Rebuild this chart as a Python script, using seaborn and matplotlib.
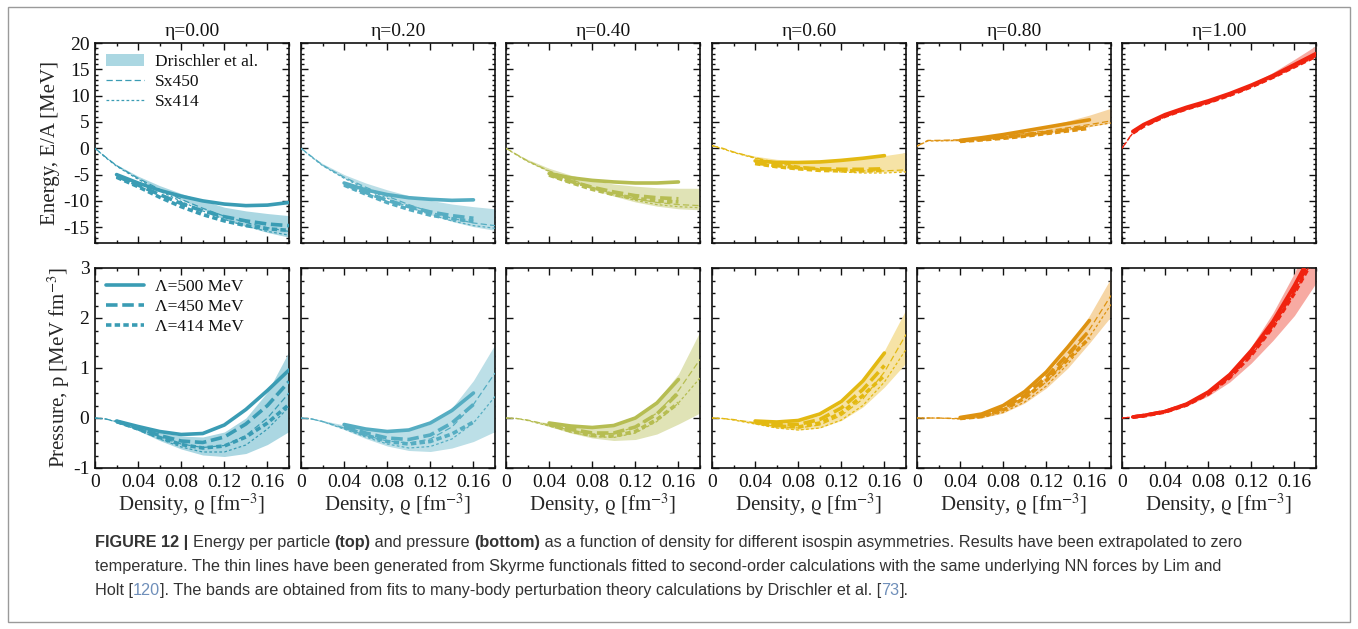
import numpy as np
import pandas as pd
import seaborn as sns
import matplotlib
matplotlib.use("Agg")
import matplotlib.pyplot as plt
from matplotlib.patches import Patch, Rectangle
from matplotlib.lines import Line2D
from matplotlib.ticker import MultipleLocator
from matplotlib import font_manager
from matplotlib.font_manager import FontProperties

nan = np.nan

# ---------------- data ----------------
RHO = [0.00, 0.01, 0.02, 0.04, 0.06, 0.08, 0.10, 0.12, 0.14, 0.16, 0.18]
ETA_TITLES = ["η=0.00", "η=0.20", "η=0.40", "η=0.60", "η=0.80", "η=1.00"]
LINE_COLORS = ["#3a9cb4", "#56adc2", "#b6bd52", "#e3b912", "#de9210", "#f0230f"]
BAND_COLORS = ["#abd7e2", "#bcdfe7", "#e0e3b6", "#f6e3a6", "#f6d6a6", "#f7aaa2"]

# Energy per particle [MeV]
E_BAND_HI = [
    [0, -1.6, -3.1, -5.3, -7.1, -8.6, -9.9, -11.2, -11.9, -12.4, -12.8],
    [0, -1.5, -2.9, -5.0, -6.6, -7.9, -9.0, -9.9, -10.6, -11.1, -11.5],
    [0, -1.1, -2.1, -3.8, -5.1, -6.1, -6.8, -7.2, -7.5, -7.6, -7.6],
    [0.5, 0.0, -0.6, -1.5, -2.1, -2.4, -2.5, -2.3, -1.9, -1.4, -0.8],
    [0.4, 1.6, 1.7, 1.8, 2.2, 2.8, 3.4, 4.2, 5.2, 6.3, 7.6],
    [0, 3.1, 4.4, 6.3, 7.6, 8.9, 10.4, 12.2, 14.4, 16.9, 19.5],
]
E_BAND_LO = [
    [0, -1.8, -3.4, -5.8, -7.9, -9.8, -11.6, -13.6, -14.8, -16.0, -16.9],
    [0, -1.7, -3.3, -5.7, -7.6, -9.4, -11.1, -12.6, -13.9, -14.9, -15.6],
    [0, -1.3, -2.5, -4.5, -6.2, -7.8, -9.1, -10.2, -11.0, -11.5, -11.7],
    [0.5, -0.1, -0.8, -1.9, -2.8, -3.5, -4.0, -4.3, -4.5, -4.5, -4.4],
    [0.4, 1.4, 1.4, 1.4, 1.6, 1.9, 2.3, 2.8, 3.4, 4.1, 4.8],
    [0, 2.9, 4.2, 6.1, 7.4, 8.6, 10.0, 11.6, 13.4, 15.4, 17.3],
]
E_SX450 = [
    [0, -1.7, -3.3, -5.7, -7.8, -9.7, -11.4, -12.9, -14.1, -15.1, -15.8],
    [0, -1.6, -3.2, -5.5, -7.4, -9.1, -10.7, -12.1, -13.3, -14.2, -14.7],
    [0, -1.2, -2.4, -4.3, -5.9, -7.4, -8.6, -9.6, -10.3, -10.7, -10.9],
    [0.5, 0.0, -0.7, -1.8, -2.7, -3.4, -3.9, -4.2, -4.3, -4.3, -4.1],
    [0.4, 1.5, 1.5, 1.6, 1.9, 2.3, 2.8, 3.3, 3.9, 4.5, 5.2],
    [0, 3.0, 4.3, 6.2, 7.5, 8.8, 10.2, 11.8, 13.7, 15.8, 17.9],
]
E_SX414 = [
    [0, -1.8, -3.4, -5.9, -8.1, -10.1, -11.9, -13.5, -14.8, -15.8, -16.5],
    [0, -1.7, -3.3, -5.7, -7.7, -9.5, -11.2, -12.6, -13.8, -14.7, -15.2],
    [0, -1.3, -2.5, -4.4, -6.1, -7.6, -8.9, -9.9, -10.7, -11.1, -11.3],
    [0.5, -0.1, -0.8, -1.9, -2.9, -3.6, -4.1, -4.5, -4.7, -4.7, -4.5],
    [0.4, 1.4, 1.4, 1.5, 1.7, 2.1, 2.5, 3.0, 3.6, 4.2, 4.8],
    [0, 2.9, 4.2, 6.1, 7.4, 8.7, 10.1, 11.7, 13.5, 15.6, 17.6],
]
E_L500 = [
    [nan, nan, -5.0, -6.6, -8.0, -9.1, -10.0, -10.6, -10.9, -10.8, -10.3],
    [nan, nan, nan, -6.6, -7.9, -8.8, -9.4, -9.7, -9.9, -9.8, nan],
    [nan, nan, nan, -4.8, -5.6, -6.1, -6.4, -6.6, -6.6, -6.4, nan],
    [nan, nan, nan, -2.4, -2.7, -2.7, -2.6, -2.3, -1.9, -1.4, nan],
    [nan, nan, nan, 1.5, 2.0, 2.6, 3.3, 4.0, 4.7, 5.4, nan],
    [nan, 3.2, 4.5, 6.4, 7.8, 9.0, 10.4, 12.0, 13.8, 15.9, 18.0],
]
E_L450 = [
    [nan, nan, -5.3, -7.0, -8.8, -10.5, -11.9, -13.0, -13.8, -14.4, -14.7],
    [nan, nan, nan, -6.8, -8.4, -9.9, -11.1, -12.1, -12.8, -13.3, nan],
    [nan, nan, nan, -5.0, -6.3, -7.4, -8.3, -9.0, -9.4, -9.6, nan],
    [nan, nan, nan, -2.8, -3.3, -3.7, -3.9, -4.0, -4.0, -3.9, nan],
    [nan, nan, nan, 1.4, 1.7, 2.1, 2.5, 3.0, 3.5, 4.0, nan],
    [nan, 3.0, 4.3, 6.2, 7.6, 8.8, 10.2, 11.8, 13.6, 15.7, 17.7],
]
E_L414 = [
    [nan, nan, -5.5, -7.3, -9.3, -11.1, -12.6, -13.8, -14.7, -15.3, -15.6],
    [nan, nan, nan, -7.0, -8.7, -10.3, -11.6, -12.7, -13.4, -13.9, nan],
    [nan, nan, nan, -5.1, -6.5, -7.8, -8.8, -9.5, -10.0, -10.2, nan],
    [nan, nan, nan, -2.9, -3.5, -3.9, -4.2, -4.3, -4.3, -4.2, nan],
    [nan, nan, nan, 1.3, 1.6, 1.9, 2.3, 2.8, 3.3, 3.8, nan],
    [nan, 2.9, 4.2, 6.1, 7.5, 8.7, 10.1, 11.7, 13.5, 15.5, 17.5],
]

# Pressure [MeV fm^-3]
P_BAND_HI = [
    [0, -0.02, -0.06, -0.17, -0.28, -0.36, -0.38, -0.28, 0.00, 0.52, 1.33],
    [0, -0.02, -0.05, -0.14, -0.22, -0.27, -0.25, -0.12, 0.20, 0.75, 1.47],
    [0, -0.01, -0.04, -0.10, -0.15, -0.17, -0.12, 0.04, 0.35, 0.88, 1.73],
    [0, 0.00, -0.02, -0.06, -0.08, -0.06, 0.05, 0.30, 0.72, 1.35, 2.17],
    [0, 0.01, 0.01, 0.01, 0.06, 0.20, 0.45, 0.85, 1.40, 2.05, 2.80],
    [0, 0.02, 0.05, 0.14, 0.30, 0.55, 0.92, 1.43, 2.10, 2.90, 3.90],
]
P_BAND_LO = [
    [0, -0.02, -0.08, -0.25, -0.45, -0.62, -0.74, -0.77, -0.71, -0.53, -0.27],
    [0, -0.02, -0.08, -0.23, -0.41, -0.56, -0.65, -0.67, -0.60, -0.47, -0.27],
    [0, -0.01, -0.05, -0.17, -0.30, -0.40, -0.45, -0.43, -0.32, -0.12, 0.10],
    [0, -0.01, -0.04, -0.12, -0.20, -0.24, -0.20, -0.05, 0.22, 0.62, 1.10],
    [0, 0.00, 0.00, -0.02, 0.00, 0.10, 0.30, 0.60, 1.00, 1.50, 2.03],
    [0, 0.02, 0.04, 0.11, 0.24, 0.44, 0.72, 1.10, 1.55, 2.05, 2.70],
]
P_SX450 = [
    [0, -0.02, -0.07, -0.22, -0.38, -0.52, -0.59, -0.55, -0.35, 0.00, 0.50],
    [0, -0.02, -0.07, -0.20, -0.35, -0.46, -0.50, -0.42, -0.18, 0.27, 0.90],
    [0, -0.01, -0.04, -0.14, -0.25, -0.32, -0.31, -0.18, 0.10, 0.55, 1.17],
    [0, -0.01, -0.03, -0.10, -0.17, -0.20, -0.14, 0.05, 0.38, 0.92, 1.67],
    [0, 0.00, 0.00, -0.01, 0.03, 0.15, 0.38, 0.72, 1.20, 1.77, 2.45],
    [0, 0.02, 0.05, 0.13, 0.28, 0.51, 0.85, 1.32, 1.90, 2.60, 3.40],
]
P_SX414 = [
    [0, -0.02, -0.08, -0.24, -0.42, -0.58, -0.68, -0.68, -0.54, -0.22, 0.22],
    [0, -0.02, -0.07, -0.22, -0.38, -0.52, -0.60, -0.57, -0.42, -0.10, 0.43],
    [0, -0.01, -0.05, -0.16, -0.28, -0.37, -0.39, -0.30, -0.07, 0.30, 0.80],
    [0, -0.01, -0.04, -0.12, -0.20, -0.24, -0.20, -0.04, 0.25, 0.72, 1.37],
    [0, 0.00, 0.00, -0.02, 0.01, 0.11, 0.32, 0.64, 1.08, 1.62, 2.27],
    [0, 0.02, 0.04, 0.12, 0.26, 0.48, 0.80, 1.25, 1.82, 2.50, 3.27],
]
P_L500 = [
    [nan, nan, -0.06, -0.17, -0.27, -0.33, -0.31, -0.14, 0.17, 0.55, 0.96],
    [nan, nan, nan, -0.13, -0.22, -0.27, -0.24, -0.10, 0.15, 0.50, nan],
    [nan, nan, nan, -0.10, -0.16, -0.19, -0.15, 0.00, 0.30, 0.77, nan],
    [nan, nan, nan, -0.06, -0.08, -0.05, 0.08, 0.33, 0.74, 1.30, nan],
    [nan, nan, nan, 0.01, 0.08, 0.25, 0.53, 0.92, 1.42, 1.95, nan],
    [nan, 0.02, 0.05, 0.13, 0.28, 0.52, 0.87, 1.35, 1.93, 2.65, 3.45],
]
P_L450 = [
    [nan, nan, -0.07, -0.20, -0.35, -0.46, -0.49, -0.38, -0.12, 0.25, 0.73],
    [nan, nan, nan, -0.16, -0.30, -0.40, -0.43, -0.34, -0.10, 0.27, nan],
    [nan, nan, nan, -0.12, -0.22, -0.30, -0.30, -0.18, 0.08, 0.50, nan],
    [nan, nan, nan, -0.08, -0.13, -0.13, -0.03, 0.20, 0.57, 1.05, nan],
    [nan, nan, nan, 0.00, 0.05, 0.20, 0.45, 0.82, 1.27, 1.75, nan],
    [nan, 0.02, 0.05, 0.13, 0.27, 0.50, 0.84, 1.30, 1.87, 2.57, 3.35],
]
P_L414 = [
    [nan, nan, -0.07, -0.22, -0.39, -0.53, -0.60, -0.56, -0.38, -0.10, 0.27],
    [nan, nan, nan, -0.18, -0.34, -0.47, -0.52, -0.47, -0.32, -0.08, nan],
    [nan, nan, nan, -0.13, -0.26, -0.35, -0.36, -0.27, -0.03, 0.30, nan],
    [nan, nan, nan, -0.09, -0.16, -0.18, -0.10, 0.10, 0.45, 0.85, nan],
    [nan, nan, nan, -0.01, 0.03, 0.16, 0.40, 0.75, 1.17, 1.60, nan],
    [nan, 0.02, 0.04, 0.12, 0.26, 0.48, 0.81, 1.26, 1.82, 2.50, 3.27],
]

X_TICKS = [0, 0.04, 0.08, 0.12, 0.16]
X_TICK_LABELS = ["0", "0.04", "0.08", "0.12", "0.16"]
E_TICKS = [-15, -10, -5, 0, 5, 10, 15, 20]
P_TICKS = [-1, 0, 1, 2, 3]

# ---------------- style ----------------
sns.set_theme(style="ticks")
plt.rcParams["font.family"] = ["Liberation Serif", "DejaVu Serif"]
plt.rcParams["mathtext.fontset"] = "stix"
plt.rcParams["axes.linewidth"] = 1.2
plt.rcParams["axes.edgecolor"] = "#111111"
plt.rcParams["xtick.color"] = "#111111"
plt.rcParams["ytick.color"] = "#111111"
plt.rcParams["text.color"] = "#111111"

W, H = 1358, 629
fig = plt.figure(figsize=(W / 100, H / 100), dpi=100)
fig.patch.set_facecolor("white")

LEFTS = [95, 301, 506, 712, 917, 1122]
AX_W = 194
TOP_ROW = (43, 243)
BOT_ROW = (268, 468)

TH_SOLID = "-"
TH_DASH = (0, (3.2, 1.3))
TH_DOT = (0, (1.5, 0.9))
TN_DASH = (0, (5, 2.5))
TN_DOT = (0, (2.2, 1.8))
LW_THICK = 2.6
LW_THIN = 0.9


def make_ax(left, row):
    top, bot = row
    return fig.add_axes([left / W, 1 - bot / H, AX_W / W, (bot - top) / H])


def draw_panel(ax, i, band_lo, band_hi, sx450, sx414, l500, l450, l414):
    c = LINE_COLORS[i]
    ax.fill_between(RHO, band_lo[i], band_hi[i], color=BAND_COLORS[i], lw=0, zorder=1)
    for ys, ls, lw in [(sx450, TN_DASH, LW_THIN), (sx414, TN_DOT, LW_THIN),
                       (l500, TH_SOLID, LW_THICK), (l450, TH_DASH, LW_THICK),
                       (l414, TH_DOT, LW_THICK)]:
        df = pd.DataFrame({"rho": RHO, "val": ys[i]}).dropna()
        sns.lineplot(data=df, x="rho", y="val", ax=ax, color=c, linestyle=ls,
                     lw=lw, estimator=None, sort=False, legend=False, zorder=3)


def style_ax(ax, yticks, ylim, yminor, show_xlabels, show_ylabels):
    ax.set_xlim(0, 0.18)
    ax.set_ylim(*ylim)
    ax.set_xticks(X_TICKS)
    ax.xaxis.set_minor_locator(MultipleLocator(0.02))
    ax.set_yticks(yticks)
    ax.yaxis.set_minor_locator(MultipleLocator(yminor))
    ax.tick_params(which="both", direction="in", top=True, right=True,
                   labelsize=14, width=1.0, pad=4)
    ax.tick_params(which="major", length=5)
    ax.tick_params(which="minor", length=2.5)
    if show_xlabels:
        ax.set_xticklabels(X_TICK_LABELS)
        ax.set_xlabel("Density, ϱ [fm$^{-3}$]", fontsize=15, labelpad=1)
    else:
        ax.set_xticklabels([])
        ax.set_xlabel("")
    if show_ylabels:
        ax.set_yticklabels([str(t) for t in yticks])
    else:
        ax.set_yticklabels([])
        ax.set_ylabel("")
    for s in ax.spines.values():
        s.set_linewidth(1.2)


LEG_KW = dict(loc="upper left", frameon=False, fontsize=12.5, handlelength=2.2,
              handletextpad=0.6, labelspacing=0.2, borderaxespad=0.45, borderpad=0.2)

for i in range(6):
    ax_e = make_ax(LEFTS[i], TOP_ROW)
    draw_panel(ax_e, i, E_BAND_LO, E_BAND_HI, E_SX450, E_SX414, E_L500, E_L450, E_L414)
    style_ax(ax_e, E_TICKS, (-18, 20), 1, False, i == 0)
    ax_e.set_title(ETA_TITLES[i], fontsize=14, pad=5)
    if i == 0:
        ax_e.set_ylabel("Energy, E/A [MeV]", fontsize=15, labelpad=2)
        h = [Patch(facecolor=BAND_COLORS[0], edgecolor="none"),
             Line2D([], [], color=LINE_COLORS[0], lw=LW_THIN, linestyle=TN_DASH),
             Line2D([], [], color=LINE_COLORS[0], lw=LW_THIN, linestyle=TN_DOT)]
        ax_e.legend(h, ["Drischler et al.", "Sx450", "Sx414"], **LEG_KW)

    ax_p = make_ax(LEFTS[i], BOT_ROW)
    draw_panel(ax_p, i, P_BAND_LO, P_BAND_HI, P_SX450, P_SX414, P_L500, P_L450, P_L414)
    style_ax(ax_p, P_TICKS, (-1, 3), 0.25, True, i == 0)
    if i == 0:
        ax_p.set_ylabel(r"Pressure, p [MeV fm$^{-3}$]", fontsize=15, labelpad=1)
        h = [Line2D([], [], color=LINE_COLORS[0], lw=LW_THICK, linestyle=TH_SOLID),
             Line2D([], [], color=LINE_COLORS[0], lw=LW_THICK, linestyle=TH_DASH),
             Line2D([], [], color=LINE_COLORS[0], lw=LW_THICK, linestyle=TH_DOT)]
        ax_p.legend(h, ["Λ=500 MeV", "Λ=450 MeV", "Λ=414 MeV"], **LEG_KW)

# outer frame
fig.patches.append(Rectangle((8 / W, 7 / H), (1350 - 8) / W, (622 - 7) / H,
                             transform=fig.transFigure, fill=False,
                             edgecolor="#9a9a9a", lw=1.0))

# ---------------- caption ----------------
try:
    font_manager.findfont(FontProperties(family="Liberation Sans Narrow"),
                          fallback_to_default=False)
    CAP_FAMILY = "Liberation Sans Narrow"
except Exception:
    CAP_FAMILY = "Liberation Sans"

CAP_COLOR = "#333333"
REF_COLOR = "#6f8fba"
CAPTION_LINES = [
    [("FIGURE 12 | ", "bold", CAP_COLOR), ("Energy per particle ", "normal", CAP_COLOR),
     ("(top)", "bold", CAP_COLOR), (" and pressure ", "normal", CAP_COLOR),
     ("(bottom)", "bold", CAP_COLOR),
     (" as a function of density for different isospin asymmetries. Results have been extrapolated to zero",
      "normal", CAP_COLOR)],
    [("temperature. The thin lines have been generated from Skyrme functionals fitted to second-order calculations with the same underlying NN forces by Lim and",
      "normal", CAP_COLOR)],
    [("Holt [", "normal", CAP_COLOR), ("120", "normal", REF_COLOR),
     ("]. The bands are obtained from fits to many-body perturbation theory calculations by Drischler et al. [",
      "normal", CAP_COLOR), ("73", "normal", REF_COLOR), ("].", "normal", CAP_COLOR)],
]

renderer = fig.canvas.get_renderer()


def seg_width(text, weight, size):
    t1 = fig.text(0, 0, "|" + text + "|", fontsize=size, fontweight=weight, family=CAP_FAMILY)
    t2 = fig.text(0, 0, "||", fontsize=size, fontweight=weight, family=CAP_FAMILY)
    w = t1.get_window_extent(renderer).width - t2.get_window_extent(renderer).width
    t1.remove()
    t2.remove()
    return w


base = 10.0
w1 = sum(seg_width(s, wt, base) for s, wt, _ in CAPTION_LINES[0])
cap_size = base * (1150.0 / w1)

for li, (segs, ybase) in enumerate(zip(CAPTION_LINES, [547, 571, 595])):
    x = 95.0
    for text, weight, color in segs:
        fig.text(x / W, 1 - ybase / H, text, fontsize=cap_size, fontweight=weight,
                 color=color, family=CAP_FAMILY, va="baseline", ha="left")
        x += seg_width(text, weight, cap_size)

fig.savefig("out.png", dpi=100, facecolor="white")
